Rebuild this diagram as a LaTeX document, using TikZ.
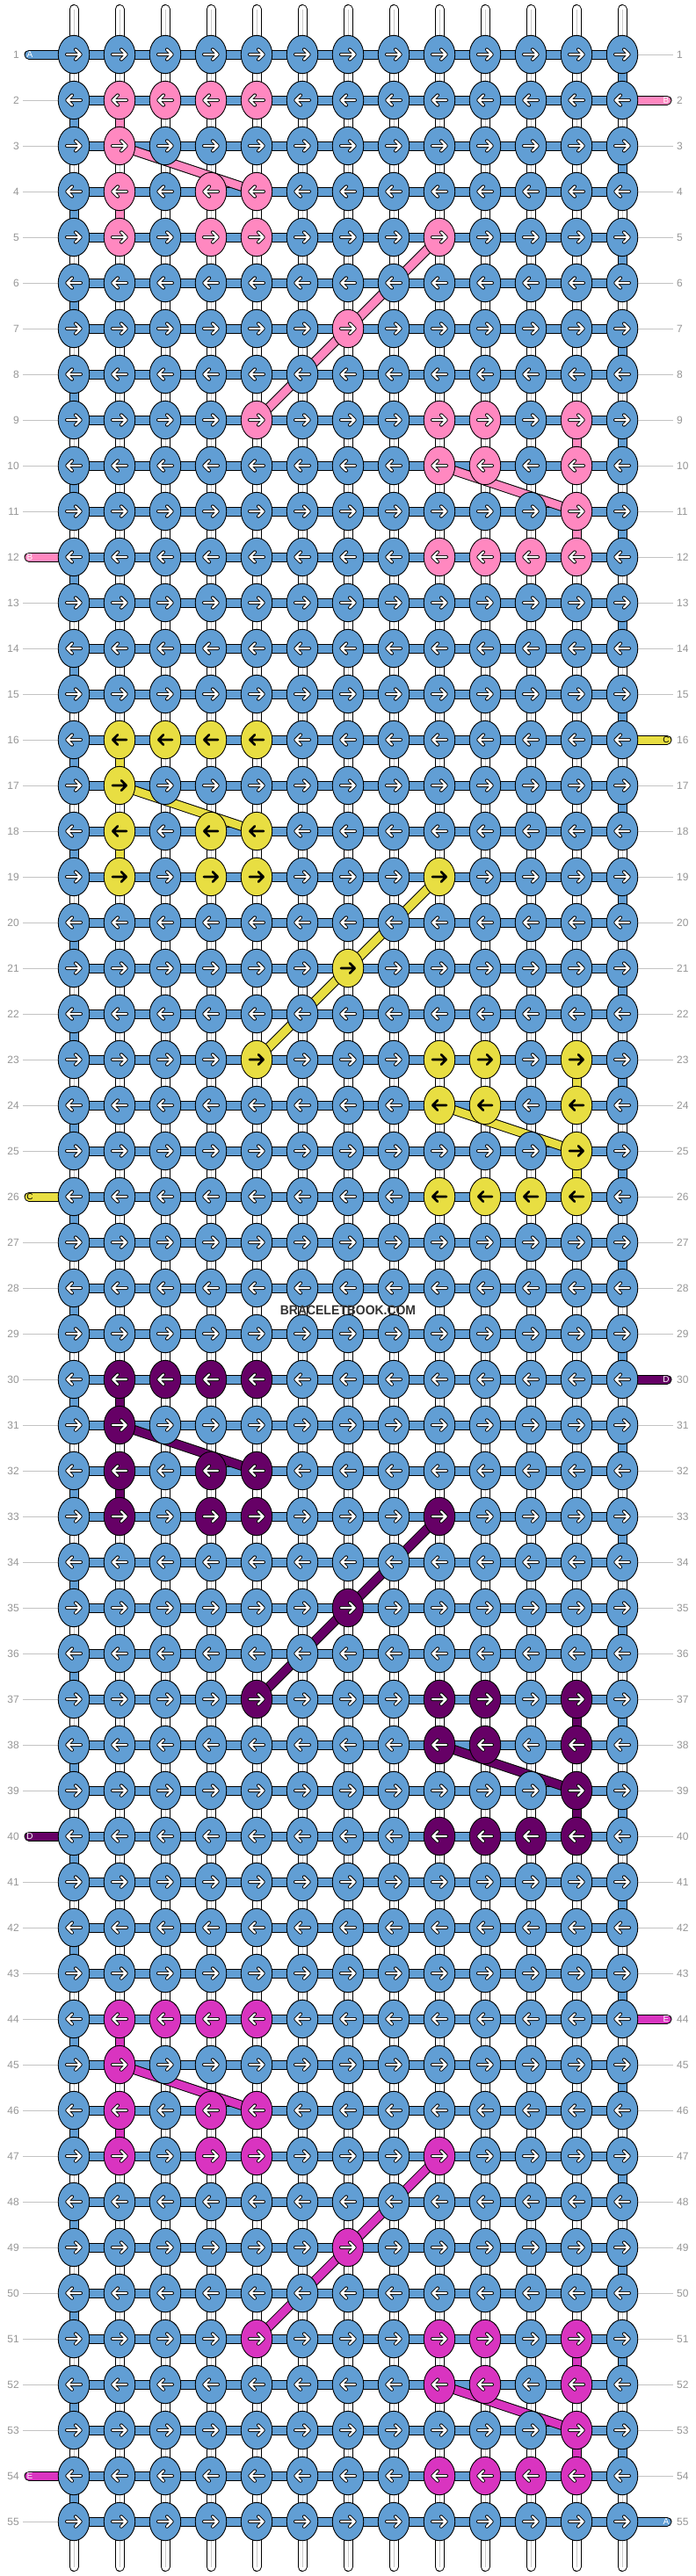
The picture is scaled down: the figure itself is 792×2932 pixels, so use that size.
\documentclass[tikz,border=0pt]{standalone}
\usepackage{fontspec}
\setmainfont{Liberation Sans}
\usetikzlibrary{shapes.geometric}
\definecolor{kblue}{RGB}{97,158,212}
\definecolor{bc0}{RGB}{255,136,192}
\definecolor{bc1}{RGB}{232,222,66}
\definecolor{bc2}{RGB}{102,0,102}
\definecolor{bc3}{RGB}{217,52,192}
\definecolor{lblgray}{RGB}{150,150,150}
\definecolor{linegray}{RGB}{195,195,195}
\definecolor{strgray}{RGB}{200,200,200}
\definecolor{wmgray}{RGB}{51,51,51}
\pgfdeclarelayer{bg}
\pgfsetlayers{bg,main}
\begin{document}
\begin{tikzpicture}[x=1pt,y=-1pt,
  knot/.style={ellipse,draw=black,line width=0.9pt,minimum width=35.5pt,minimum height=43.4pt,inner sep=0pt},
  thread/.style={draw=black,line width=1pt,double=#1,double distance=9pt},
  stub/.style={draw=black,line width=1pt,double=#1,double distance=9pt,line cap=round},
  whitestring/.style={draw=black,line width=1pt,double=white,double distance=9pt,line cap=round},
  arrw/.style={draw=black,line width=0.9pt,double=white,double distance=2.2pt,line cap=round,line join=round},
  arrk/.style={draw=black,line width=2.6pt,line cap=round,line join=round},
  rowlbl/.style={font=\fontsize{12}{12}\selectfont,text=lblgray,inner sep=0pt},
  guide/.style={draw=linegray,line width=1pt},
  stublbl/.style={font=\fontsize{10}{10}\selectfont,inner sep=0pt}]
\useasboundingbox (0,0) rectangle (792,2932);

% pattern cells (relative row k / column c)
\foreach \k/\c in {0/1,0/2,0/3,0/4,1/1,2/1,2/3,2/4,3/1,3/3,3/4,3/8,5/6,7/4,7/8,7/9,7/11,8/8,8/9,8/11,9/11,10/8,10/9,10/10,10/11}{%
  \expandafter\gdef\csname pat-\k-\c\endcsname{1}}

% knots
\foreach \r in {1,...,55}{
  \pgfmathtruncatemacro\bi{floor((\r-2)/14)}
  \pgfmathtruncatemacro\kk{\r-2-14*\bi}
  \pgfmathtruncatemacro\dd{2*mod(\r,2)-1}
  \foreach \c in {0,...,12}{
    \ifcsname pat-\kk-\c\endcsname
      \edef\kcol{bc\bi}%
      \ifnum\bi=1 \def\arst{arrk}\else\def\arst{arrw}\fi
    \else
      \def\kcol{kblue}\def\arst{arrw}%
    \fi
    \node[knot,fill=\kcol] (k-\r-\c) at ({84+52*\c},{10+52*\r}) {};
    \draw[\arst,shift={(k-\r-\c.center)},xscale=\dd] (-8,0) -- (7.7,0) (2,-5.7) -- (7.7,0) -- (2,5.7);
  }
}

\begin{pgfonlayer}{bg}
  \fill[white] (0,0) rectangle (792,2932);
  % vertical strings
  \foreach \c in {0,...,12}{
    \coordinate (top-\c) at ({84+52*\c},10.5);
    \coordinate (bot-\c) at ({84+52*\c},2921.5);
    \draw[whitestring] (top-\c) -- (bot-\c);
    \draw[draw=strgray,line width=0.6pt] (top-\c) -- (bot-\c);
  }
  % horizontal blue thread
  \foreach \r in {1,...,55}{
    \draw[thread=kblue] (k-\r-0.center) -- (k-\r-12.center);
  }
  \foreach \r in {1,...,54}{
    \pgfmathtruncatemacro\rn{\r+1}
    \pgfmathtruncatemacro\ec{mod(\r,2)==1 ? 12 : 0}
    \draw[thread=kblue] (k-\r-\ec.center) -- (k-\rn-\ec.center);
  }
  % coloured motifs
  \foreach \bi/\RR in {0/2,1/16,2/30,3/44}{
    \pgfmathtruncatemacro\Ra{\RR+1}
    \pgfmathtruncatemacro\Rb{\RR+2}
    \pgfmathtruncatemacro\Rc{\RR+3}
    \pgfmathtruncatemacro\Rg{\RR+7}
    \pgfmathtruncatemacro\Rh{\RR+8}
    \pgfmathtruncatemacro\Ri{\RR+9}
    \pgfmathtruncatemacro\Rj{\RR+10}
    \draw[thread=bc\bi] (k-\RR-1.center) -- (k-\Ra-1.center);
    \draw[thread=bc\bi] (k-\Rb-1.center) -- (k-\Rc-1.center);
    \draw[thread=bc\bi] (k-\Rg-11.center) -- (k-\Rh-11.center);
    \draw[thread=bc\bi] (k-\Ri-11.center) -- (k-\Rj-11.center);
    \draw[thread=bc\bi] (k-\Ra-1.center) -- (k-\Rb-4.center);
    \draw[thread=bc\bi] (k-\Rc-8.center) -- (k-\Rg-4.center);
    \draw[thread=bc\bi] (k-\Rh-8.center) -- (k-\Ri-11.center);
  }
  % row guide lines
  \foreach \r in {2,...,11,13,14,...,25,27,28,...,39,41,42,...,53,55}{
    \coordinate (gl-\r) at (26,{10+52*\r});
    \draw[guide] (gl-\r) -- (k-\r-0.center);
  }
  \foreach \r in {1,3,4,...,15,17,18,...,29,31,32,...,43,45,46,...,54}{
    \coordinate (gr-\r) at (766,{10+52*\r});
    \draw[guide] (k-\r-12.center) -- (gr-\r);
  }
  % stubs
  \foreach \r/\col in {1/kblue,12/bc0,26/bc1,40/bc2,54/bc3}{
    \coordinate (sl-\r) at (33,{10+52*\r});
    \draw[stub=\col] (sl-\r) -- (k-\r-0.center);
  }
  \foreach \r/\col in {2/bc0,16/bc1,30/bc2,44/bc3,55/kblue}{
    \coordinate (sr-\r) at (759,{10+52*\r});
    \draw[stub=\col] (k-\r-12.center) -- (sr-\r);
  }
\end{pgfonlayer}

% stub letters
\foreach \r/\t/\tc in {1/A/white,12/B/white,26/C/black,40/D/white,54/E/white}{
  \node[stublbl,text=\tc] (ll-\r) at (34,{10+52*\r}) {\t};
}
\foreach \r/\t/\tc in {2/B/white,16/C/black,30/D/white,44/E/white,55/A/white}{
  \node[stublbl,text=\tc] (rl-\r) at (758,{10+52*\r}) {\t};
}

% row numbers
\foreach \r in {1,...,55}{
  \node[rowlbl,anchor=east] (nl-\r) at (22,{10+52*\r}) {\r};
  \node[rowlbl,anchor=west] (nr-\r) at (770,{10+52*\r}) {\r};
}

% watermark
\node[font=\bfseries\fontsize{15}{15}\selectfont,text=wmgray,inner sep=0pt] (wm) at (396,1491) {\scalebox{0.93}[1]{BRACELETBOOK.COM}};
\end{tikzpicture}
\end{document}
